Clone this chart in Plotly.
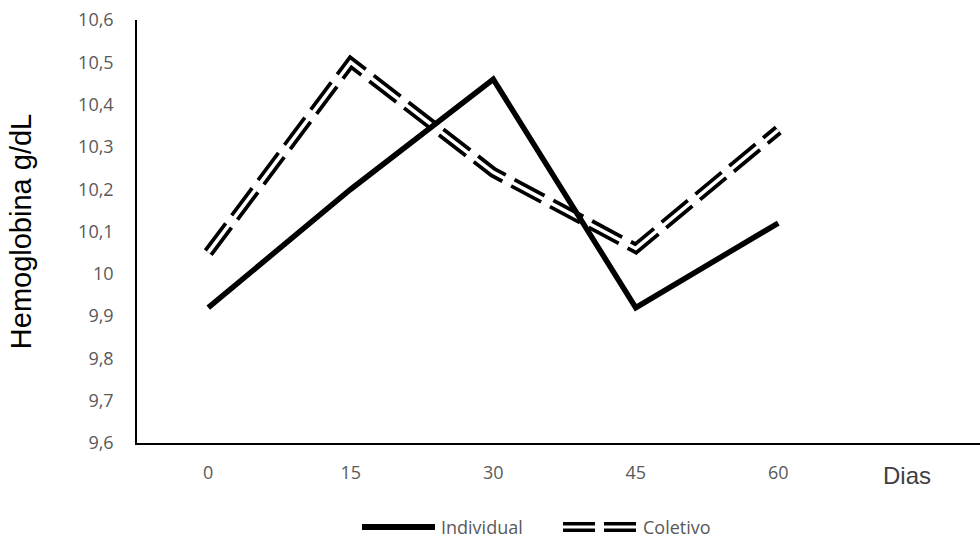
import plotly.graph_objects as go

# Hemoglobin over time, two treatment groups
dias = ["0", "15", "30", "45", "60"]
individual = [9.92, 10.20, 10.46, 9.92, 10.12]
coletivo = [10.05, 10.50, 10.24, 10.06, 10.34]

y_ticks = [9.6, 9.7, 9.8, 9.9, 10.0, 10.1, 10.2, 10.3, 10.4, 10.5, 10.6]
y_tick_labels = ["9,6", "9,7", "9,8", "9,9", "10", "10,1", "10,2", "10,3", "10,4", "10,5", "10,6"]

W, H = 980, 538
ML, MR, MT, MB = 137, 0, 20, 95
PW, PH = W - ML - MR, H - MT - MB


def px_x(px):
    return (px - ML) / PW


def px_y(py):
    return (H - MB - py) / PH


TICK_FONT = dict(family="Open Sans", size=18, color="#595959")

fig = go.Figure()

# double (compound) dashed line: wide black dashes with a thin white core
fig.add_trace(go.Scatter(
    x=dias, y=coletivo, mode="lines", name="Coletivo",
    line=dict(color="black", width=11, dash="34px,10px"),
    showlegend=False, hoverinfo="skip",
))
fig.add_trace(go.Scatter(
    x=dias, y=coletivo, mode="lines", name="Coletivo",
    line=dict(color="white", width=3.5),
    showlegend=False,
))
fig.add_trace(go.Scatter(
    x=dias, y=individual, mode="lines", name="Individual",
    line=dict(color="black", width=5.5),
    showlegend=False,
))

# custom legend below the axis
ly = px_y(527)
shapes = [
    dict(type="line", xref="paper", yref="paper", x0=px_x(362), x1=px_x(435), y0=ly, y1=ly,
         line=dict(color="black", width=6)),
    dict(type="line", xref="paper", yref="paper", x0=px_x(563), x1=px_x(637), y0=ly, y1=ly,
         line=dict(color="black", width=10, dash="32px,9px")),
    dict(type="line", xref="paper", yref="paper", x0=px_x(560), x1=px_x(640), y0=ly, y1=ly,
         line=dict(color="white", width=3)),
]
annotations = [
    dict(text="Individual", xref="paper", yref="paper", x=px_x(439), y=ly,
         xanchor="left", yanchor="middle", showarrow=False, font=TICK_FONT),
    dict(text="Coletivo", xref="paper", yref="paper", x=px_x(641), y=ly,
         xanchor="left", yanchor="middle", showarrow=False, font=TICK_FONT),
    dict(text="Dias", xref="paper", yref="paper", x=px_x(907), y=px_y(475),
         xanchor="center", yanchor="middle", showarrow=False,
         font=dict(family="Liberation Sans", size=24, color="#404040")),
]

fig.update_layout(
    width=W, height=H,
    margin=dict(l=ML, r=MR, t=MT, b=MB),
    paper_bgcolor="white", plot_bgcolor="white",
    showlegend=False,
    shapes=shapes,
    annotations=annotations,
    xaxis=dict(
        type="category", range=[-0.5, PW / 142.5 - 0.5],
        showgrid=False, zeroline=False,
        showline=True, linecolor="black", linewidth=1.5,
        ticks="", tickfont=TICK_FONT, ticklabelstandoff=13,
    ),
    yaxis=dict(
        range=[9.6, 10.6], tickvals=y_ticks, ticktext=y_tick_labels,
        showgrid=False, zeroline=False,
        showline=True, linecolor="black", linewidth=1.5,
        ticks="", tickfont=TICK_FONT, ticklabelstandoff=18,
        title=dict(text="Hemoglobina g/dL", standoff=38,
                   font=dict(family="Liberation Sans", size=29, color="black")),
    ),
)

fig.write_html("out.html")
